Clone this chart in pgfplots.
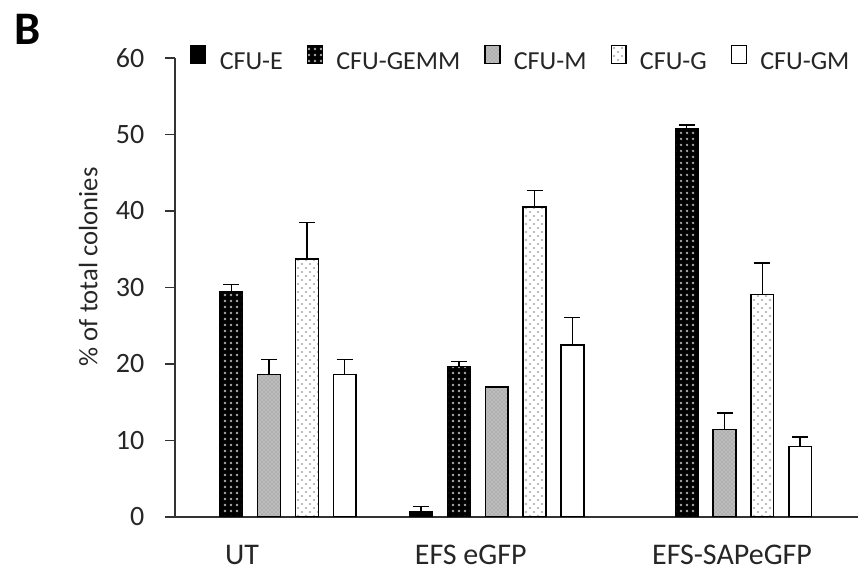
\documentclass[border=0pt]{standalone}
\usepackage{pgfplots}
\pgfplotsset{compat=1.18}
\usepackage{pgfplotstable}
\usetikzlibrary{patterns}
\usepackage{fontspec}
\setmainfont{Carlito}

\pgfdeclarepatternformonly{gemmdots}{\pgfqpoint{-1pt}{-1pt}}{\pgfqpoint{5pt}{5pt}}{\pgfqpoint{4.5pt}{4.5pt}}%
{\pgfpathcircle{\pgfqpoint{2.25pt}{2.25pt}}{0.95pt}\pgfusepath{fill}}
\pgfdeclarepatternformonly{gdots}{\pgfqpoint{-1pt}{-1pt}}{\pgfqpoint{7pt}{7pt}}{\pgfqpoint{6pt}{6pt}}%
{\pgfpathcircle{\pgfqpoint{1.5pt}{1.5pt}}{0.8pt}\pgfpathcircle{\pgfqpoint{4.5pt}{4.5pt}}{0.8pt}\pgfusepath{fill}}

\pgfplotstableread{
x y e
1 0.75 0.6
}\cfuE
\pgfplotstableread{
x y e
0 29.45 0.95
1 19.65 0.65
2 50.7 0.55
}\cfuGEMM
\pgfplotstableread{
x y e
0 18.65 1.95
1 17.0 0.0
2 11.45 2.15
}\cfuM
\pgfplotstableread{
x y e
0 33.7 4.8
1 40.5 2.2
2 29.1 4.1
}\cfuG
\pgfplotstableread{
x y e
0 18.65 1.95
1 22.5 3.6
2 9.2 1.25
}\cfuGM

\begin{document}
\begin{tikzpicture}
\path[use as bounding box] (0,0) rectangle (650.25pt,430.5pt);
\node[anchor=base west,font=\fontsize{35}{40}\selectfont\bfseries,inner sep=0pt] at (11pt,397pt) {B};
\begin{axis}[
  at={(131.25pt,42.75pt)}, anchor=south west,
  scale only axis, width=512.25pt, height=344.25pt,
  xmin=-0.413, xmax=2.586, ymin=0, ymax=60,
  axis x line=bottom, axis y line=left,
  axis line style={-, line width=1pt, black!80},
  ytick={0,10,...,60},
  tick align=outside, major tick length=7.5pt,
  ytick style={line width=1pt, black!80},
  yticklabel style={xshift=-12pt},
  xtick={-0.119,0.886,2.033},
  xticklabels={UT,EFS eGFP,EFS-SAPeGFP},
  xtick style={draw=none},
  xticklabel style={yshift=-10pt, font=\fontsize{22.5}{26}\selectfont},
  tick label style={font=\fontsize{21}{24}\selectfont, text=black!85},
  /pgf/number format/assume math mode=true,
  ylabel={\% of total colonies},
  ylabel style={font=\fontsize{20}{24}\selectfont, text=black!85, at={(axis description cs:-0.127,0.545)}, anchor=center},
  ybar, bar width=0.1,
  error bars/y dir=plus, error bars/y explicit,
  error bars/error bar style={line width=1.1pt, black},
  error bars/error mark options={rotate=90, mark size=6pt, line width=1.1pt, black},
  legend columns=5,
  legend style={at={(rel axis cs:0.022,1.0)}, anchor=west, draw=none, fill=none,
    font=\fontsize{19.5}{22}\selectfont, text=black!85, inner sep=0pt,
    nodes={inner sep=0pt},
    /tikz/every odd column/.style={column sep=10pt},
    /tikz/every even column/.style={column sep=18pt}},
  legend image code/.code={\draw[#1] (0pt,-1pt) rectangle (11pt,12.5pt);},
  every axis plot/.append style={draw=black, line width=1.1pt},
]
\addplot[fill=black, bar shift=-0.332] table[x=x,y=y,y error=e] {\cfuE};
\addplot[fill=black, postaction={pattern=gemmdots, pattern color=gray!65}, bar shift=-0.166] table[x=x,y=y,y error=e] {\cfuGEMM};
\addplot[fill=gray!62, postaction={pattern=crosshatch dots, pattern color=white!80!gray}, bar shift=0] table[x=x,y=y,y error=e] {\cfuM};
\addplot[fill=white, postaction={pattern=gdots, pattern color=gray!70}, bar shift=0.166] table[x=x,y=y,y error=e] {\cfuG};
\addplot[fill=white, bar shift=0.332] table[x=x,y=y,y error=e] {\cfuGM};
\legend{CFU-E,CFU-GEMM,CFU-M,CFU-G,CFU-GM}
\end{axis}
\end{tikzpicture}
\end{document}
